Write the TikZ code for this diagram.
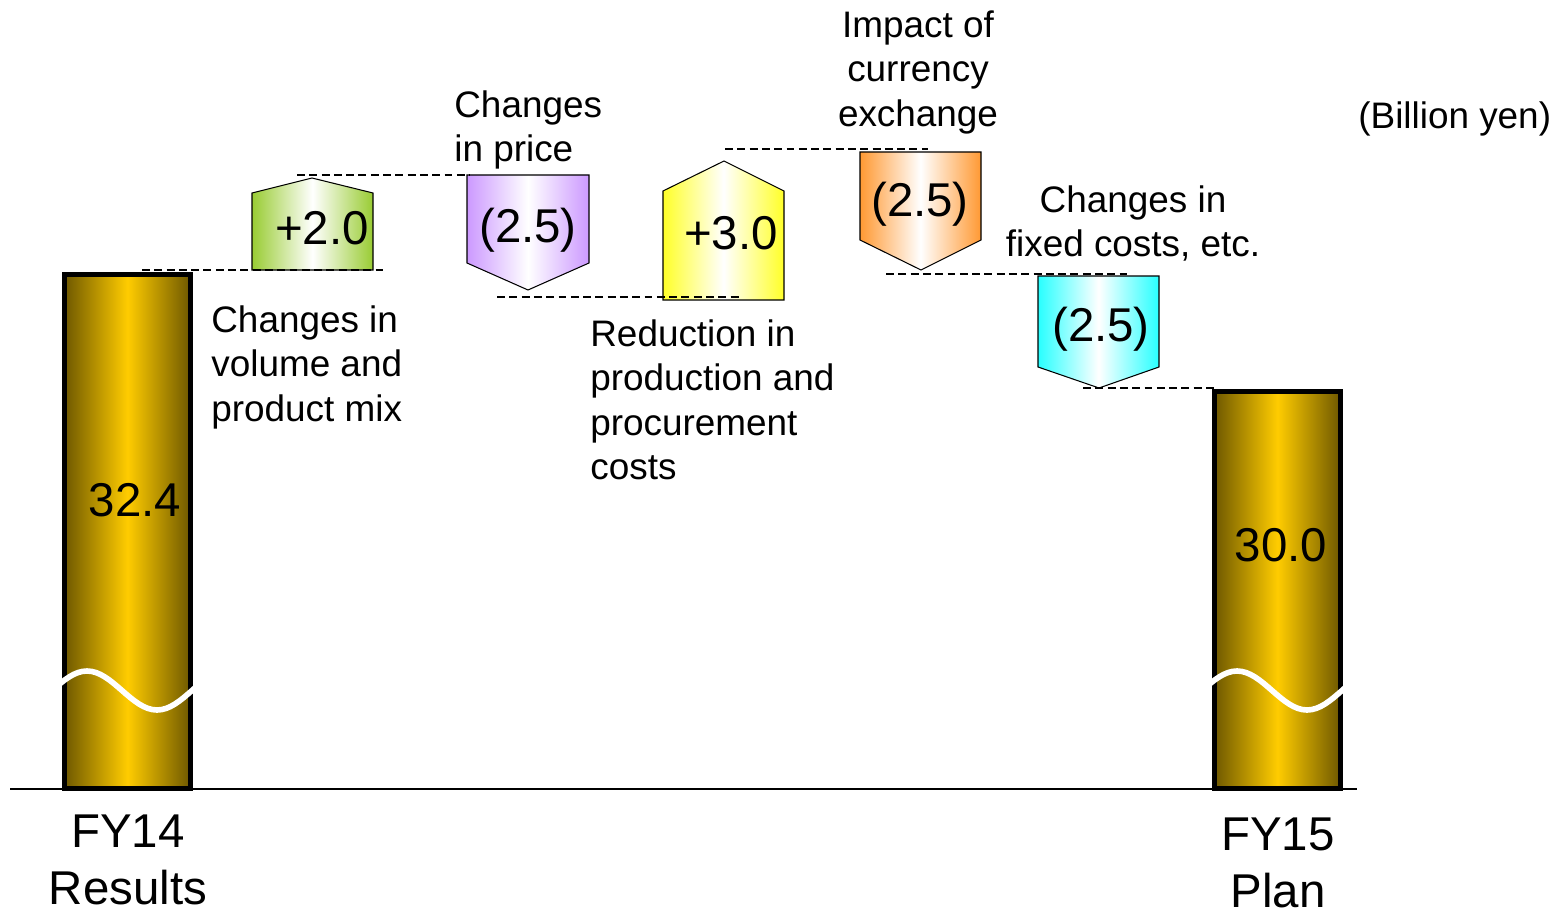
\documentclass[tikz,border=0pt]{standalone}
\usepackage{fontspec}
\setmainfont{Liberation Sans}
\definecolor{gold}{RGB}{255,204,0}
\definecolor{bardark}{RGB}{110,88,0}
\definecolor{grn}{RGB}{153,204,51}
\definecolor{lilac}{RGB}{204,153,255}
\definecolor{yel}{RGB}{255,255,40}
\definecolor{orng}{RGB}{255,153,51}
\definecolor{cyn}{RGB}{40,255,255}
\begin{document}
\begin{tikzpicture}[x=0.02cm, y=-0.02cm,
  lbl/.style={font=\fontsize{21}{25.4}\selectfont, inner sep=0pt},
  val/.style={font=\fontsize{27}{32}\selectfont, inner sep=0pt},
  bar/.style={draw, line width=2.9pt, left color=bardark, right color=bardark, middle color=gold},
  chg/.style={draw, line width=0.6pt, left color=#1, right color=#1, middle color=white},
  lvl/.style={line width=0.7pt, dash pattern=on 4.5pt off 2.5pt},
  wave/.style={white, line width=3.2pt}]
\useasboundingbox (0,0) rectangle (1565,912);

% start and end bars
\draw[bar] (64.5,274.5) coordinate (fy14top) rectangle (190.5,788.5);
\draw[bar] (1214.5,391.5) coordinate (fy15top) rectangle (1340.5,788.5);
\draw[wave] (52,690.5) sin (87,671) cos (122,690.5) sin (157,710) cos (192,690.5) sin (210,680);
\draw[wave] (1202,690.5) sin (1237,671) cos (1272,690.5) sin (1307,710) cos (1342,690.5) sin (1360,680);
\coordinate (axl) at (10,789);
\coordinate (axr) at (1357,789);
\draw[line width=0.9pt] (axl) -- (axr);

% changes
\draw[chg=grn] (252,270) -- (252,193) -- (312,178) coordinate (gtop) -- (373,193) -- (373,270) coordinate (gbot) -- cycle;
\draw[chg=lilac] (467,175) coordinate (ptop) -- (589,175) -- (589,263) -- (528,290) coordinate (pbot) -- (467,263) -- cycle;
\draw[chg=yel] (663,300) -- (663,191) -- (724,161) coordinate (ytop) -- (784,191) -- (784,300) coordinate (ybot) -- cycle;
\draw[chg=orng] (860,152) coordinate (otop) -- (981,152) -- (981,240) -- (921,270) coordinate (obot) -- (860,240) -- cycle;
\draw[chg=cyn] (1038,276) coordinate (ctop) -- (1159,276) -- (1159,367) -- (1099,388) coordinate (cbot) -- (1038,367) -- cycle;

% dashed levels
\coordinate (l1a) at (142,270); \coordinate (l1b) at (383,270);
\coordinate (l2a) at (297,175); \coordinate (l2b) at (470,175);
\coordinate (l3a) at (497,297); \coordinate (l3b) at (740,297);
\coordinate (l4a) at (725,149); \coordinate (l4b) at (928,149);
\coordinate (l5a) at (886,274); \coordinate (l5b) at (1127,274);
\coordinate (l6a) at (1083,388); \coordinate (l6b) at (1214,388);
\draw[lvl] (l1a) -- (l1b);
\draw[lvl] (l2a) -- (l2b);
\draw[lvl] (l3a) -- (l3b);
\draw[lvl] (l4a) -- (l4b);
\draw[lvl] (l5a) -- (l5b);
\draw[lvl] (l6a) -- (l6b);

% values
\node[val] (v14) at (135,500) {32.4};
\node[val] (v15) at (1281,545) {30.0};
\node[val] (vg) at (322,228) {+2.0};
\node[val] (vp) at (528,230) {(2.5)};
\node[val] (vy) at (731,233) {+3.0};
\node[val] (vo) at (920,204) {(2.5)};
\node[val] (vc) at (1101,329) {(2.5)};

% labels
\node[lbl, anchor=north west, align=left] (lvol) at (211,305) {Changes in\\volume and\\product mix};
\node[lbl, anchor=north west, align=left] (lprice) at (454,90) {Changes\\in price};
\node[lbl, anchor=north west, align=left] (lprod) at (590,319) {Reduction in\\production and\\procurement\\costs};
\node[lbl, anchor=north, align=center] (lfx) at (918,10) {Impact of\\currency\\exchange};
\node[lbl, anchor=north, align=center] (lfix) at (1133,185) {Changes in\\fixed costs, etc.};
\node[lbl, anchor=base west] (unit) at (1358,129) {(Billion yen)};
\node[val, anchor=north, align=center, font=\fontsize{27}{31.9}\selectfont] (n14) at (128,815) {FY14\\Results};
\node[val, anchor=north, align=center, font=\fontsize{27}{31.9}\selectfont] (n15) at (1278,818) {FY15\\Plan};
\end{tikzpicture}
\end{document}
